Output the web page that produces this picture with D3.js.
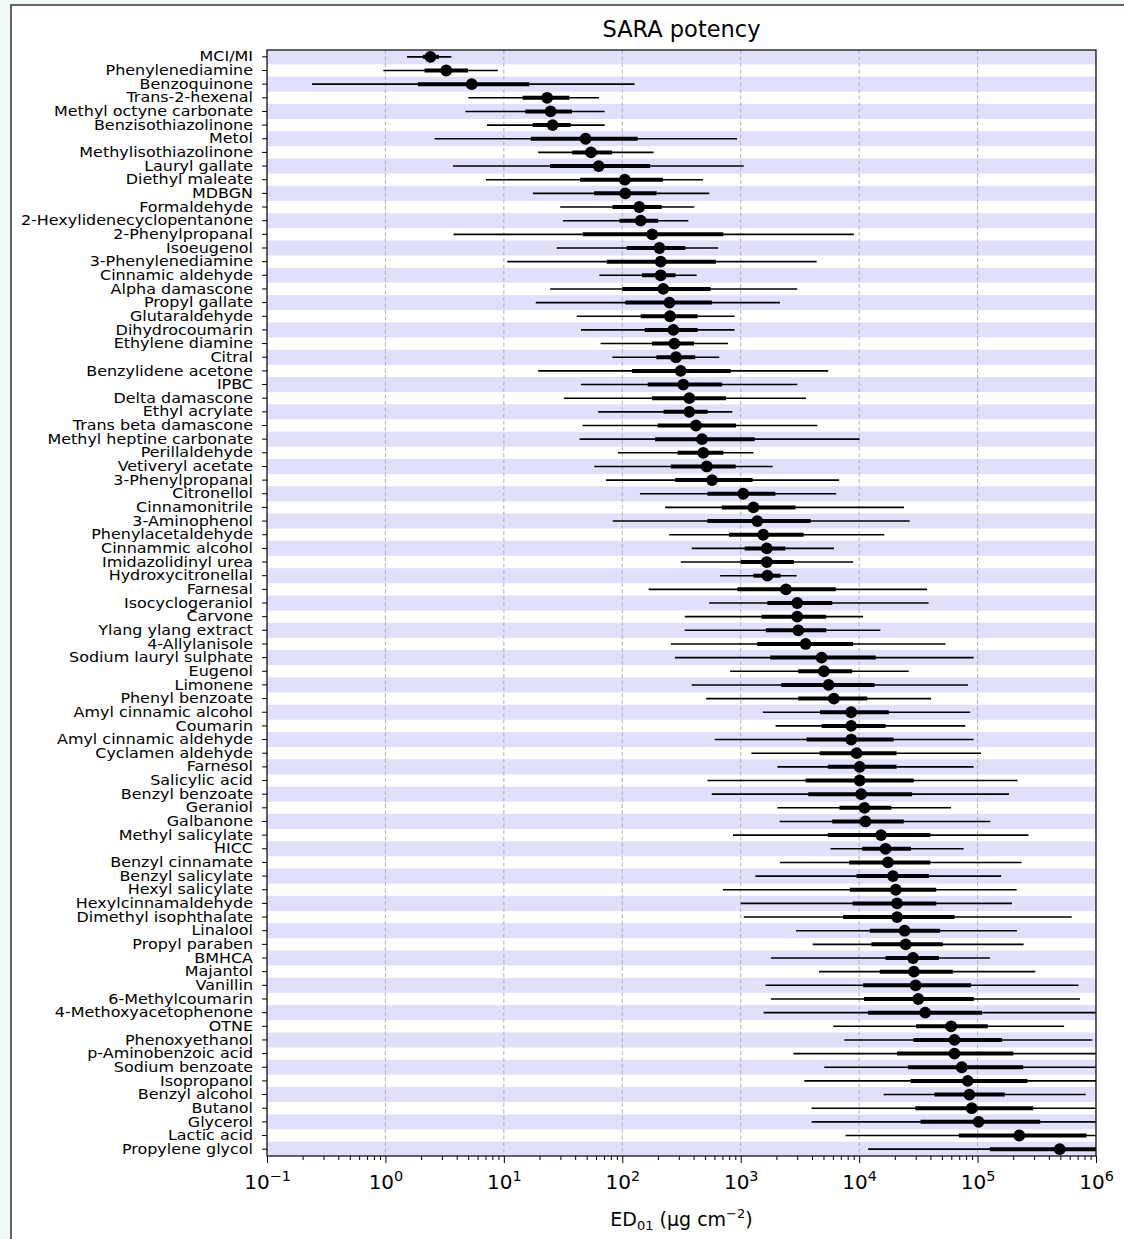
<!DOCTYPE html>
<html>
<head>
<meta charset="utf-8">
<script src="https://cdn.jsdelivr.net/npm/d3@7"></script>
<style>
body { margin: 0; background: #eef8f6; }
svg { display: block; }
text { font-family: "DejaVu Sans", sans-serif; fill: #000; }
</style>
</head>
<body>
<div id="chart"></div>
<script>

var names = ["MCI/MI", "Phenylenediamine", "Benzoquinone", "Trans-2-hexenal", "Methyl octyne carbonate",
  "Benzisothiazolinone", "Metol", "Methylisothiazolinone", "Lauryl gallate", "Diethyl maleate",
  "MDBGN", "Formaldehyde", "2-Hexylidenecyclopentanone", "2-Phenylpropanal", "Isoeugenol",
  "3-Phenylenediamine", "Cinnamic aldehyde", "Alpha damascone", "Propyl gallate", "Glutaraldehyde",
  "Dihydrocoumarin", "Ethylene diamine", "Citral", "Benzylidene acetone", "IPBC",
  "Delta damascone", "Ethyl acrylate", "Trans beta damascone", "Methyl heptine carbonate", "Perillaldehyde",
  "Vetiveryl acetate", "3-Phenylpropanal", "Citronellol", "Cinnamonitrile", "3-Aminophenol",
  "Phenylacetaldehyde", "Cinnammic alcohol", "Imidazolidinyl urea", "Hydroxycitronellal", "Farnesal",
  "Isocyclogeraniol", "Carvone", "Ylang ylang extract", "4-Allylanisole", "Sodium lauryl sulphate",
  "Eugenol", "Limonene", "Phenyl benzoate", "Amyl cinnamic alcohol", "Coumarin",
  "Amyl cinnamic aldehyde", "Cyclamen aldehyde", "Farnesol", "Salicylic acid", "Benzyl benzoate",
  "Geraniol", "Galbanone", "Methyl salicylate", "HICC", "Benzyl cinnamate",
  "Benzyl salicylate", "Hexyl salicylate", "Hexylcinnamaldehyde", "Dimethyl isophthalate", "Linalool",
  "Propyl paraben", "BMHCA", "Majantol", "Vanillin", "6-Methylcoumarin",
  "4-Methoxyacetophenone", "OTNE", "Phenoxyethanol", "p-Aminobenzoic acid", "Sodium benzoate",
  "Isopropanol", "Benzyl alcohol", "Butanol", "Glycerol", "Lactic acid", "Propylene glycol"];

// median ED01
var med = [2.4, 3.26, 5.35, 23.2, 24.8, 25.8, 49, 54.4, 63.2, 105,
  106, 139, 143, 179, 206, 211, 211, 222, 250, 253,
  270, 275, 284, 311, 327, 368, 368, 419, 471, 483,
  517, 573, 1050, 1280, 1380, 1550, 1660, 1660, 1680, 2410,
  3000, 3000, 3060, 3530, 4820, 5040, 5520, 6120, 8570, 8570,
  8570, 9510, 10100, 10100, 10400, 11100, 11300, 15300, 16700, 17500,
  19300, 20400, 20900, 20900, 24200, 24700, 28500, 29000, 30000, 31600,
  36100, 59800, 63800, 63800, 73600, 82600, 85300, 89300, 102000, 225000, 494000];

// outer interval (thin line)
var lo95 = [1.52, 0.96, 0.24, 5.01, 4.73, 7.2, 2.6, 19.5, 3.72, 7.05,
  17.6, 29.9, 31.5, 3.76, 28, 10.7, 64, 24.6, 18.6, 41.3,
  44.8, 65.6, 82.4, 19.5, 44.8, 32.1, 62.6, 46.2, 43.6, 91.9,
  58.1, 72.8, 141, 230, 83, 249, 386, 312, 670, 167,
  541, 337, 337, 257, 278, 813, 386, 511, 1540, 1970,
  604, 1230, 2040, 524, 570, 2040, 2130, 861, 5730, 2140,
  1330, 708, 1000, 1060, 2930, 4050, 1800, 4580, 1620, 1800,
  1560, 6040, 7480, 2790, 5070, 3440, 16100, 3970, 3970, 7680, 11900];
var hi95 = [3.6, 8.9, 127, 63.6, 71, 71, 931, 184, 1060, 480,
  543, 405, 361, 9020, 643, 4370, 425, 3000, 2140, 887,
  887, 780, 659, 5480, 3010, 3560, 849, 4430, 10100, 1280,
  1860, 6780, 6400, 23900, 26700, 16300, 6120, 8890, 2970, 37400,
  38600, 10800, 15100, 53500, 92500, 26200, 83000, 40500, 86700, 78700,
  92500, 107000, 92500, 217000, 184000, 59600, 128000, 269000, 76200, 235000,
  158000, 214000, 195000, 624000, 215000, 245000, 127000, 307000, 710000, 733000,
  2000000, 538000, 931000, 2000000, 2000000, 2000000, 818000, 2000000, 2000000, 2000000, 2000000];

// inner interval (thick line)
var lo50 = [2.07, 2.14, 1.88, 14.4, 15.2, 17.5, 16.9, 37.8, 24.5, 44,
  57.8, 82.6, 94.6, 46.4, 109, 74, 147, 100, 106, 143,
  155, 178, 194, 121, 164, 178, 223, 199, 189, 293,
  257, 280, 524, 692, 524, 797, 1080, 1000, 1280, 937,
  1680, 1500, 1630, 1380, 1770, 3060, 2200, 3060, 4670, 4820,
  3600, 4640, 5440, 3530, 3720, 6820, 5920, 5440, 10600, 8240,
  9500, 8340, 8790, 7330, 12300, 12700, 16700, 14900, 10800, 11000,
  11900, 30300, 28800, 20900, 25800, 27200, 43300, 29800, 33000, 69500, 127000];
var hi50 = [2.83, 4.98, 16.4, 35.7, 37.6, 36.6, 135, 82, 172, 220,
  195, 215, 201, 713, 340, 618, 281, 557, 571, 432,
  433, 403, 413, 822, 698, 750, 526, 912, 1310, 713,
  907, 1260, 1960, 2900, 3890, 3400, 2380, 2810, 2170, 6350,
  5920, 5270, 5270, 8890, 13800, 8730, 13500, 11700, 17800, 16700,
  19600, 20700, 20700, 28900, 28000, 18700, 23800, 39900, 27400, 39900,
  38800, 44800, 44800, 63800, 48300, 50900, 47100, 61800, 88100, 92900,
  109000, 122000, 161000, 200000, 243000, 264000, 170000, 295000, 338000, 830000, 2000000];

var xTicks = [1e-1, 1e0, 1e1, 1e2, 1e3, 1e4, 1e5, 1e6];
var xExp = ["\u22121", "0", "1", "2", "3", "4", "5", "6"];

var W = 1124, H = 1239;
var pL = 267, pR = 1096, pT = 50, pB = 1156;

var svg = d3.select("#chart").append("svg")
    .attr("width", W)
    .attr("height", H);

// figure frame
svg.append("rect")
    .attr("x", 11).attr("y", 5)
    .attr("width", W).attr("height", H)
    .attr("fill", "#fff")
    .attr("stroke", "#333")
    .attr("stroke-width", 1.5);

var x = d3.scaleLog().domain([0.1, 1e6]).range([pL, pR]);
var y = d3.scaleBand().domain(names).range([pT, pB]);

var rows = names.map(function(n, i) {
    return { name: n, med: med[i], lo95: lo95[i], hi95: hi95[i], lo50: lo50[i], hi50: hi50[i], i: i };
});

svg.append("clipPath").attr("id", "clip")
  .append("rect")
    .attr("x", pL).attr("y", pT)
    .attr("width", pR - pL).attr("height", pB - pT);

var plot = svg.append("g").attr("clip-path", "url(#clip)");

// alternating row shading
var bh = y.bandwidth() * 1.1;
plot.selectAll(".band")
    .data(rows.filter(function(d) { return d.i % 2 == 0; }))
    .enter().append("rect")
    .attr("class", "band")
    .attr("x", pL)
    .attr("width", pR - pL)
    .attr("y", function(d) { return y(d.name) + y.bandwidth() / 2 - bh / 2; })
    .attr("height", bh)
    .attr("fill", "#e0e0fc");

// grid
plot.selectAll(".grid")
    .data(xTicks)
    .enter().append("line")
    .attr("x1", function(d) { return x(d); })
    .attr("x2", function(d) { return x(d); })
    .attr("y1", pT).attr("y2", pB)
    .attr("stroke", "#b0b0b0")
    .attr("stroke-width", 1)
    .attr("stroke-dasharray", "4,2.5");

var cy = function(d) { return y(d.name) + y.bandwidth() / 2; };

plot.selectAll(".thin")
    .data(rows)
    .enter().append("line")
    .attr("x1", function(d) { return x(d.lo95); })
    .attr("x2", function(d) { return x(d.hi95); })
    .attr("y1", cy).attr("y2", cy)
    .attr("stroke", "#000")
    .attr("stroke-width", 1.6);

plot.selectAll(".thick")
    .data(rows)
    .enter().append("line")
    .attr("x1", function(d) { return x(d.lo50); })
    .attr("x2", function(d) { return x(d.hi50); })
    .attr("y1", cy).attr("y2", cy)
    .attr("stroke", "#000")
    .attr("stroke-width", 4);

plot.selectAll(".dot")
    .data(rows)
    .enter().append("circle")
    .attr("cx", function(d) { return x(d.med); })
    .attr("cy", cy)
    .attr("r", 5.9)
    .attr("fill", "#000");

// x axis: minor then major ticks
var minor = x.ticks().filter(function(v) { return xTicks.indexOf(v) < 0; });
svg.append("g")
    .attr("transform", "translate(0," + pB + ")")
    .call(d3.axisBottom(x).tickValues(minor).tickSize(4).tickFormat(""))
    .call(function(g) { g.select(".domain").remove(); });

var gx = svg.append("g")
    .attr("transform", "translate(0," + pB + ")")
    .call(d3.axisBottom(x).tickValues(xTicks).tickSize(7).tickPadding(6).tickFormat(""));
gx.select(".domain").remove();
gx.selectAll(".tick text").each(function(d, i) {
    var t = d3.select(this);
    t.attr("font-size", 20).attr("fill", "#000").attr("dy", "1em");
    t.append("tspan").text("10");
    t.append("tspan").attr("dy", "-0.55em").attr("font-size", "0.72em").text(xExp[i]);
});

// y axis, labels a little wider than the font
var gy = svg.append("g")
    .attr("transform", "translate(" + pL + ",0)")
    .call(d3.axisLeft(y).tickSize(5).tickPadding(9));
gy.select(".domain").remove();
gy.selectAll(".tick text")
    .attr("font-size", 14.5).attr("fill", "#000")
    .attr("font-family", "DejaVu Sans")
    .each(function() {
        var len = this.getComputedTextLength();
        d3.select(this).attr("textLength", len * 1.1).attr("lengthAdjust", "spacingAndGlyphs");
    });

// spines
svg.append("rect")
    .attr("x", pL).attr("y", pT)
    .attr("width", pR - pL).attr("height", pB - pT)
    .attr("fill", "none")
    .attr("stroke", "#000")
    .attr("stroke-width", 1.2);

// title
svg.append("text")
    .attr("x", (pL + pR) / 2).attr("y", 37)
    .attr("text-anchor", "middle")
    .attr("font-size", 22.5)
    .text("SARA potency");

// x label
var xl = svg.append("text")
    .attr("x", (pL + pR) / 2).attr("y", 1226)
    .attr("text-anchor", "middle")
    .attr("font-size", 19);
xl.append("tspan").text("ED");
xl.append("tspan").attr("font-size", 13).attr("dy", 4).text("01");
xl.append("tspan").attr("dy", -4).text(" (\u03bcg cm");
xl.append("tspan").attr("font-size", 13).attr("dy", -8).text("\u22122");
xl.append("tspan").attr("dy", 8).text(")");

</script>
</body>
</html>
